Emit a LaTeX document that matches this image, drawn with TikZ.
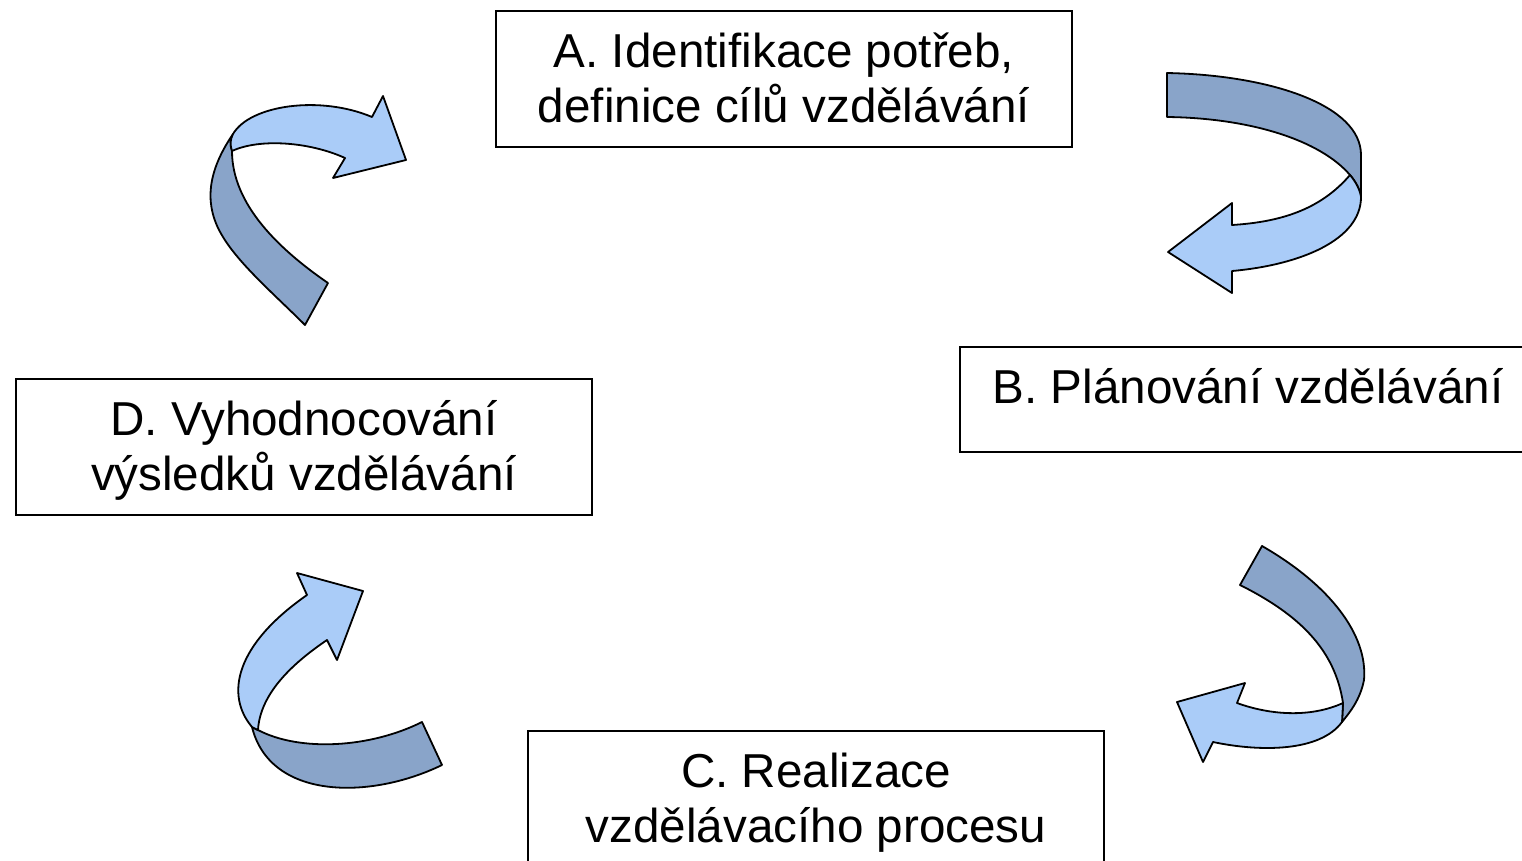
\documentclass[tikz,border=0pt]{standalone}
\usepackage{fontspec}
\setmainfont{Liberation Sans}
\usepackage{tikz}
\usetikzlibrary{positioning}
\definecolor{frontblue}{RGB}{170,204,248}
\definecolor{backblue}{RGB}{137,164,201}

\begin{document}
\begin{tikzpicture}
  [
    x=1pt,
    y=-1pt,
    box/.style={
      draw,
      line width=1.8pt,
      minimum width=576pt,
      inner sep=0pt,
      text height=112pt,
      text depth=24pt,
      align=center,
      anchor=north,
      font=\fontsize{47.6}{55}\selectfont
    },
    front/.style={
      draw,
      fill=frontblue,
      line width=1.8pt,
      line join=round
    },
    back/.style={
      front,
      fill=backblue
    }
  ]
  \useasboundingbox (0,0) rectangle (1522,860);
  % the four stages
  \node [box] (A) at (784,10) {A. Identifikace potřeb,\\definice cílů vzdělávání};
  \node [box,text height=57pt,text depth=48pt] (B) at (1248,346) {B. Plánování vzdělávání};
  \node [box] (C) at (816,730) {C. Realizace\\vzdělávacího procesu};
  \node [box] (D) at (304,378) {D. Vyhodnocování\\výsledků vzdělávání};
  % A -> B
  \draw [back] (1167,73) .. controls (1270,75) and (1361,105) .. (1361,155)
    -- (1361,197) .. controls (1360,190) and (1356,182) .. (1350,175)
    .. controls (1320,140) and (1250,118) .. (1167,117) -- cycle;
  \draw [front] (1350,175) .. controls (1320,210) and (1280,222) .. (1232,225)
    -- (1232,203) -- (1168,252) -- (1232,293) -- (1232,271)
    .. controls (1300,265) and (1361,240) .. (1361,197)
    .. controls (1360,190) and (1356,182) .. (1350,175) -- cycle;
  % B -> C
  \draw [back] (1240,585) -- (1262,546) .. controls (1330,585) and (1368,635) .. (1364,680)
    .. controls (1360,700) and (1350,712) .. (1342,722) -- (1343,703)
    .. controls (1335,650) and (1300,615) .. (1240,585) -- cycle;
  \draw [front] (1343,703) .. controls (1310,718) and (1270,715) .. (1237,703)
    -- (1245,683) -- (1177,702) -- (1203,762) -- (1213,742)
    .. controls (1260,752) and (1320,752) .. (1342,722) -- cycle;
  % C -> D
  \draw [back] (258,730) .. controls (300,752) and (370,748) .. (422,722)
    -- (442,765) .. controls (370,800) and (270,800) .. (252,727)
    .. controls (254,728) and (256,729) .. (258,730) -- cycle;
  \draw [front] (307,595) -- (297,573) -- (363,591) -- (337,660) -- (327,640)
    .. controls (290,665) and (260,695) .. (258,730)
    .. controls (256,729) and (254,728) .. (252,727)
    .. controls (225,695) and (235,645) .. (307,595) -- cycle;
  % D -> A
  \draw [back] (233,134) .. controls (212,165) and (200,200) .. (223,237)
    .. controls (240,265) and (275,295) .. (305,325) -- (328,283)
    .. controls (280,250) and (232,205) .. (232,151)
    .. controls (230,145) and (230,140) .. (233,134) -- cycle;
  \draw [front] (233,134) .. controls (250,105) and (320,95) .. (372,117)
    -- (383,96) -- (406,160) -- (333,178) -- (345,158)
    .. controls (310,142) and (260,138) .. (232,151)
    .. controls (230,145) and (230,140) .. (233,134) -- cycle;
\end{tikzpicture}
\end{document}
